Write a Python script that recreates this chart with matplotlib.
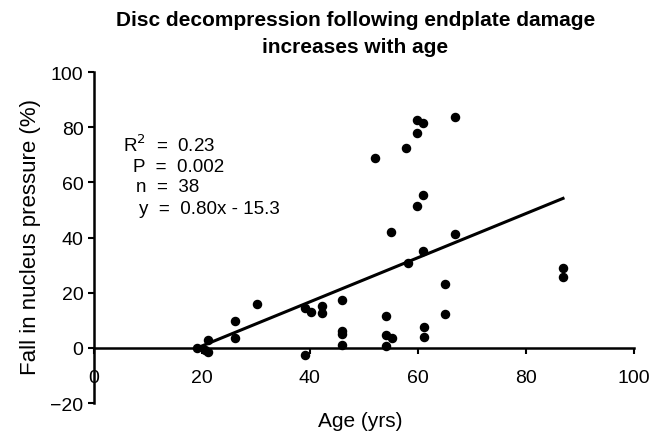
import matplotlib.pyplot as plt
import numpy as np

plt.rcParams["font.family"] = ["Liberation Sans", "DejaVu Sans"]

# age (yrs) and fall in nucleus pressure (%)
age = [19.1, 21.2, 21.2, 20.6, 26.2, 26.2, 30.2, 39.1, 40.2, 42.2,
       42.2, 46.0, 46.0, 46.0, 46.0, 39.1, 59.9, 61.0, 59.9, 66.9,
       57.9, 52.0, 61.0, 59.9, 55.0, 66.9, 61.0, 58.1, 65.0, 65.0,
       54.1, 54.1, 55.2, 54.1, 61.1, 61.1, 86.9, 86.9]
pressure_fall = [0.0, 2.9, -1.4, -0.6, 9.6, 3.5, 16.1, 14.3, 13.2, 15.3,
                 12.5, 17.4, 6.2, 5.0, 1.1, -2.4, 82.7, 81.5, 77.9, 83.6,
                 72.3, 68.8, 55.5, 51.6, 42.1, 41.4, 35.1, 30.7, 23.1, 12.2,
                 11.7, 4.8, 3.5, 0.8, 7.7, 3.9, 28.8, 25.6]

slope = 0.80
intercept = -15.3

x_ticks = [0, 20, 40, 60, 80, 100]
y_ticks = [-20, 0, 20, 40, 60, 80, 100]

fig = plt.figure(figsize=(6.52, 4.35), dpi=100)
ax = fig.add_axes([0.144, 0.071, 0.828, 0.761])

ax.scatter(age, pressure_fall, s=34, color="black", zorder=3)

fit_x = np.array([min(age), max(age)])
ax.plot(fit_x, slope * fit_x + intercept, color="black", linewidth=2.2)

ax.set_xlim(0, 100)
ax.set_ylim(-20, 100)
ax.set_xticks(x_ticks)
ax.set_yticks(y_ticks)

ax.spines["left"].set_position(("data", 0))
ax.spines["bottom"].set_position(("data", 0))
ax.spines["right"].set_visible(False)
ax.spines["top"].set_visible(False)
ax.spines["left"].set_linewidth(1.8)
ax.spines["bottom"].set_linewidth(1.8)

ax.tick_params(axis="both", labelsize=14, width=1.5, length=4,
               direction="out")
ax.tick_params(axis="x", pad=11)

ax.set_xlabel("Age (yrs)", fontsize=15, va="center")
ax.xaxis.set_label_coords(0.493, -0.054)
ax.set_ylabel("Fall in nucleus pressure (%)", fontsize=16, va="center")
ax.yaxis.set_label_coords(-0.118, 0.505)

stats_lines = [
    (0.054, 0.782, r"R$^{2}$  =  0.23"),
    (0.072, 0.716, "P  =  0.002"),
    (0.078, 0.653, "n  =  38"),
    (0.083, 0.589, "y  =  0.80x - 15.3"),
]
for tx, ty, txt in stats_lines:
    ax.text(tx, ty, txt, transform=ax.transAxes, fontsize=13.5,
            va="center", ha="left")

fig.text(0.545, 0.922,
         "Disc decompression following endplate damage\nincreases with age",
         ha="center", va="center", fontsize=15, fontweight="bold",
         linespacing=1.5)

fig.savefig("out.png", dpi=100)
